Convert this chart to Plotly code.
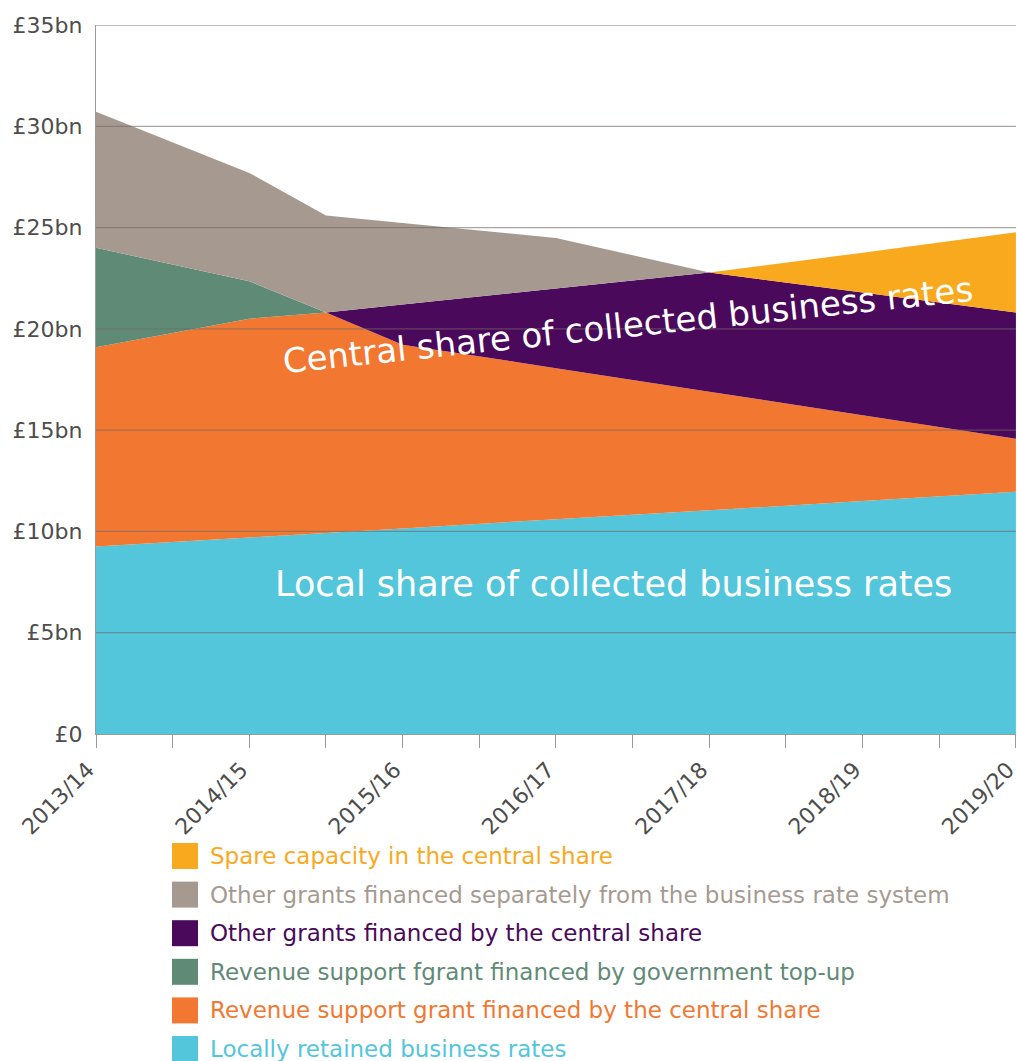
import plotly.graph_objects as go

# ---- Data (£bn) ----
years = ['2013/14', '2014/15', '2015/16', '2016/17', '2017/18', '2018/19', '2019/20']
y_tick_vals = [0, 5, 10, 15, 20, 25, 30, 35]
y_tick_text = ['£0', '£5bn', '£10bn', '£15bn', '£20bn', '£25bn', '£30bn', '£35bn']

# x positions are in year-index units (0 = 2013/14); band thickness in £bn
local_x = [0, 1, 2, 3, 4, 5, 6]
local_vals = [9.25, 9.7, 10.15, 10.6, 11.04, 11.5, 11.96]

rsg_central_x = [0, 1, 1.5, 2, 3, 4, 5, 6]
rsg_central_vals = [9.84, 10.8, 10.88, 9.07, 7.46, 5.86, 4.23, 2.61]

rsg_topup_x = [0, 1, 1.5]
rsg_topup_vals = [4.91, 1.85, 0.0]

other_central_x = [1.5, 2, 3, 4, 5, 6]
other_central_vals = [0.0, 1.98, 3.93, 5.88, 6.06, 6.24]

other_separate_x = [0, 1, 1.5, 3, 4]
other_separate_vals = [6.72, 5.35, 4.79, 2.5, 0.0]

spare_x = [4, 5, 6]
spare_vals = [0.0, 1.97, 3.96]

series = [
    ('Locally retained business rates', local_x, local_vals, '#53C6DC'),
    ('Revenue support grant financed by the central share', rsg_central_x, rsg_central_vals, '#F27831'),
    ('Revenue support fgrant financed by government top-up', rsg_topup_x, rsg_topup_vals, '#5F8B76'),
    ('Other grants financed by the central share', other_central_x, other_central_vals, '#4A095B'),
    ('Other grants financed separately from the business rate system', other_separate_x, other_separate_vals, '#A69A90'),
    ('Spare capacity in the central share', spare_x, spare_vals, '#F9A91E'),
]

FONT = 'DejaVu Sans'
TICK_COLOR = '#4d4d4d'
AXIS_COLOR = '#9a9a9a'

fig = go.Figure()
for name, xs, vals, col in series:
    fig.add_trace(go.Scatter(
        x=xs, y=vals, name=name, mode='none',
        stackgroup='one', stackgaps='interpolate',
        fillcolor=col, showlegend=False, hoverinfo='skip',
    ))

# gridlines drawn above the areas
shapes = []
for v in y_tick_vals[1:]:
    shapes.append(dict(type='line', xref='paper', yref='y', x0=0, x1=1, y0=v, y1=v,
                       line=dict(color='rgba(115,105,100,0.6)', width=1.3), layer='above'))

# manual legend below the chart (top item first)
W, H = 1017, 1061
ML, MR, MT, MB = 96, 1, 25, 327
plot_w = W - ML - MR
plot_h = H - MT - MB

def px_to_paper_x(px):
    return (px - ML) / plot_w

def px_to_paper_y(py):
    return (H - MB - py) / plot_h

annotations = []
legend_row0 = 856
legend_step = 38.6
sw = 26
for i, (name, xs, vals, col) in enumerate(reversed(series)):
    cy = legend_row0 + i * legend_step
    shapes.append(dict(type='rect', xref='paper', yref='paper',
                       x0=px_to_paper_x(172), x1=px_to_paper_x(172 + sw),
                       y0=px_to_paper_y(cy - sw / 2), y1=px_to_paper_y(cy + sw / 2),
                       fillcolor=col, line=dict(width=0), layer='above'))
    annotations.append(dict(xref='paper', yref='paper', x=px_to_paper_x(208), y=px_to_paper_y(cy),
                            text=name, showarrow=False, xanchor='left', yanchor='middle',
                            font=dict(family=FONT, size=23, color=col)))

annotations.append(dict(xref='x', yref='y', x=3.378, y=7.41,
                        text='Local share of collected business rates', showarrow=False,
                        xanchor='center', yanchor='middle',
                        font=dict(family=FONT, size=35, color='white')))
annotations.append(dict(xref='x', yref='y', x=3.47, y=20.2, textangle=-6,
                        text='Central share of collected business rates', showarrow=False,
                        xanchor='center', yanchor='middle',
                        font=dict(family=FONT, size=34, color='white')))

fig.update_layout(
    width=W, height=H,
    margin=dict(l=ML, r=MR, t=MT, b=MB, autoexpand=False),
    paper_bgcolor='white', plot_bgcolor='white',
    font=dict(family=FONT),
    showlegend=False,
    shapes=shapes,
    annotations=annotations,
    xaxis=dict(
        range=[0, 6.0005], tickmode='array', tickvals=list(range(len(years))), ticktext=years,
        tickangle=-45, ticks='outside', ticklen=13, tickwidth=1.3, tickcolor=AXIS_COLOR,
        showline=True, linecolor=AXIS_COLOR, linewidth=1.3, automargin=False,
        showgrid=False, zeroline=False, layer='above traces', ticklabeloverflow='allow',
        ticklabelshift=-8,
        tickfont=dict(family=FONT, size=22, color=TICK_COLOR),
        minor=dict(ticks='outside', ticklen=13, tickwidth=1.3, tickcolor=AXIS_COLOR,
                   dtick=0.5, tick0=0, showgrid=False),
    ),
    yaxis=dict(
        range=[0, 35], tickmode='array', tickvals=y_tick_vals, ticktext=y_tick_text,
        ticks='', showline=True, linecolor=AXIS_COLOR, linewidth=1.3, automargin=False,
        showgrid=False, zeroline=False, layer='above traces', ticklabelstandoff=8,
        tickfont=dict(family=FONT, size=22, color=TICK_COLOR),
    ),
)

fig.write_html('out.html')
